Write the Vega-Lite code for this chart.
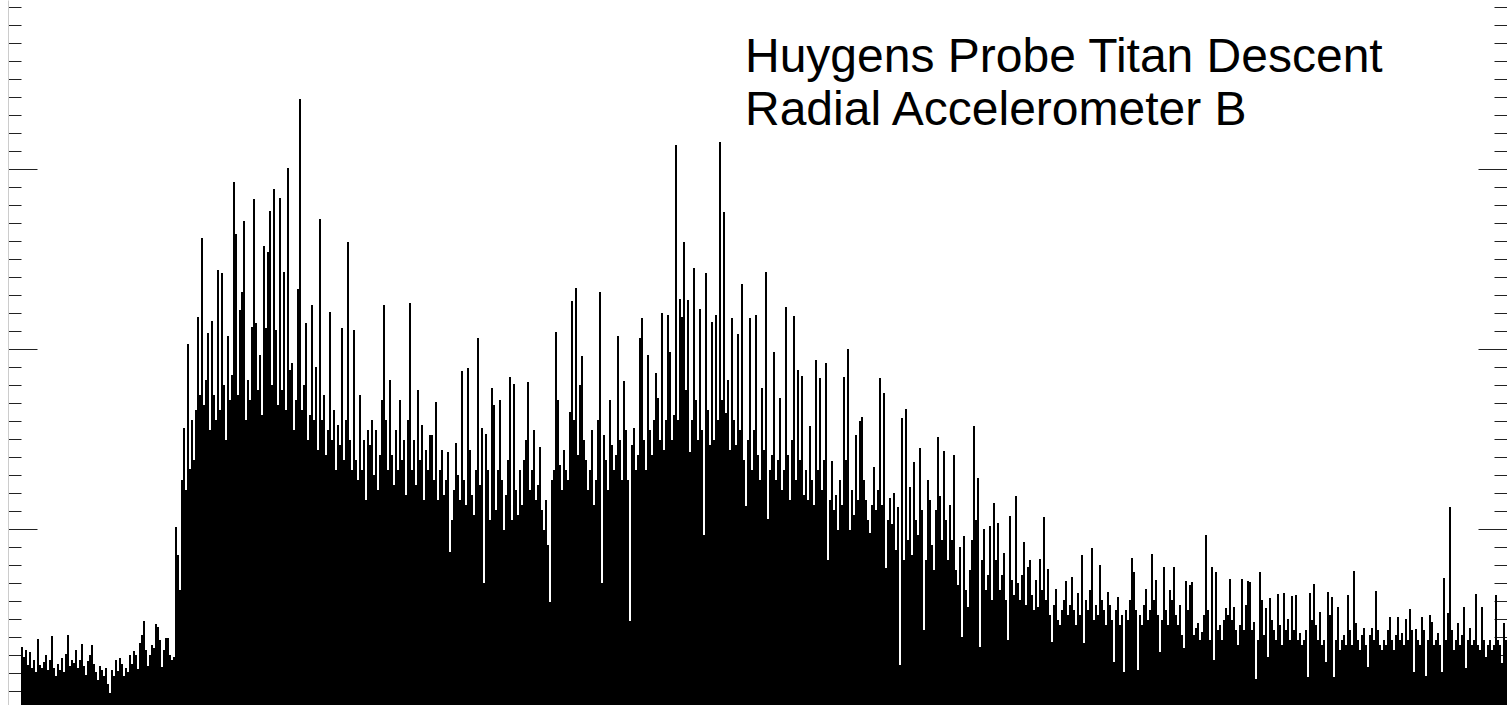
{
"$schema": "https://vega.github.io/schema/vega-lite/v6.json",
"width": 1486,
"height": 705,
"autosize": {"type": "none"},
"padding": {"left": 21, "top": 0, "right": 0, "bottom": 0},
"background": "white",
"title": {"text": ["Huygens Probe Titan Descent", "Radial Accelerometer B"], "anchor": "start", "frame": "group", "orient": "top", "dx": 724, "offset": -173, "font": "Liberation Sans", "fontSize": 48, "fontWeight": "normal", "color": "#000000", "lineHeight": 53, "baseline": "alphabetic"},
"data": {"values": [
{"i":0,"h":62},{"i":1,"h":52},{"i":2,"h":59},{"i":3,"h":44},{"i":4,"h":57},{"i":5,"h":41},{"i":6,"h":49},{"i":7,"h":37},{"i":8,"h":70},{"i":9,"h":44},
{"i":10,"h":41},{"i":11,"h":47},{"i":12,"h":54},{"i":13,"h":39},{"i":14,"h":49},{"i":15,"h":73},{"i":16,"h":41},{"i":17,"h":33},{"i":18,"h":45},{"i":19,"h":39},
{"i":20,"h":51},{"i":21,"h":37},{"i":22,"h":55},{"i":23,"h":74},{"i":24,"h":43},{"i":25,"h":49},{"i":26,"h":46},{"i":27,"h":59},{"i":28,"h":41},{"i":29,"h":49},
{"i":30,"h":65},{"i":31,"h":43},{"i":32,"h":34},{"i":33,"h":48},{"i":34,"h":54},{"i":35,"h":64},{"i":36,"h":45},{"i":37,"h":37},{"i":38,"h":29},{"i":39,"h":43},
{"i":40,"h":39},{"i":41,"h":33},{"i":42,"h":41},{"i":43,"h":25},{"i":44,"h":16},{"i":45,"h":39},{"i":46,"h":33},{"i":47,"h":49},{"i":48,"h":38},{"i":49,"h":51},
{"i":50,"h":45},{"i":51,"h":33},{"i":52,"h":41},{"i":53,"h":37},{"i":54,"h":54},{"i":55,"h":45},{"i":56,"h":58},{"i":57,"h":54},{"i":58,"h":40},{"i":59,"h":66},
{"i":60,"h":74},{"i":61,"h":88},{"i":62,"h":59},{"i":63,"h":43},{"i":64,"h":54},{"i":65,"h":64},{"i":66,"h":61},{"i":67,"h":85},{"i":68,"h":82},{"i":69,"h":69},
{"i":70,"h":42},{"i":71,"h":59},{"i":72,"h":71},{"i":73,"h":71},{"i":74,"h":54},{"i":75,"h":49},{"i":76,"h":52},
{"i":77,"h":182},{"i":78,"h":154},{"i":79,"h":119},{"i":80,"h":229},{"i":81,"h":281},{"i":82,"h":219},{"i":83,"h":365},{"i":84,"h":240},
{"i":85,"h":289},{"i":86,"h":249},{"i":87,"h":299},{"i":88,"h":392},{"i":89,"h":314},{"i":90,"h":471},{"i":91,"h":304},{"i":92,"h":329},{"i":93,"h":376},{"i":94,"h":279},
{"i":95,"h":388},{"i":96,"h":314},{"i":97,"h":289},{"i":98,"h":439},{"i":99,"h":299},{"i":100,"h":436},{"i":101,"h":324},{"i":102,"h":269},{"i":103,"h":373},{"i":104,"h":309},
{"i":105,"h":334},{"i":106,"h":527},{"i":107,"h":475},{"i":108,"h":314},{"i":109,"h":399},{"i":110,"h":417},{"i":111,"h":488},{"i":112,"h":289},{"i":113,"h":329},{"i":114,"h":309},
{"i":115,"h":382},{"i":116,"h":510},{"i":117,"h":386},{"i":118,"h":319},{"i":119,"h":354},{"i":120,"h":294},{"i":121,"h":463},{"i":122,"h":381},{"i":123,"h":457},{"i":124,"h":498},
{"i":125,"h":324},{"i":126,"h":520},{"i":127,"h":379},{"i":128,"h":304},{"i":129,"h":511},{"i":130,"h":319},{"i":131,"h":437},{"i":132,"h":299},{"i":133,"h":541},{"i":134,"h":339},
{"i":135,"h":346},{"i":136,"h":279},{"i":137,"h":309},{"i":138,"h":420},{"i":139,"h":610},{"i":140,"h":299},{"i":141,"h":324},{"i":142,"h":386},{"i":143,"h":269},{"i":144,"h":294},
{"i":145,"h":404},{"i":146,"h":289},{"i":147,"h":342},{"i":148,"h":259},{"i":149,"h":490},{"i":150,"h":289},{"i":151,"h":314},{"i":152,"h":254},{"i":153,"h":279},{"i":154,"h":397},
{"i":155,"h":269},{"i":156,"h":299},{"i":157,"h":239},{"i":158,"h":284},{"i":159,"h":264},{"i":160,"h":381},{"i":161,"h":249},{"i":162,"h":289},{"i":163,"h":467},{"i":164,"h":269},
{"i":165,"h":239},{"i":166,"h":379},{"i":167,"h":249},{"i":168,"h":229},{"i":169,"h":314},{"i":170,"h":239},{"i":171,"h":269},{"i":172,"h":209},{"i":173,"h":279},{"i":174,"h":264},
{"i":175,"h":289},{"i":176,"h":234},{"i":177,"h":279},{"i":178,"h":219},{"i":179,"h":254},{"i":180,"h":309},{"i":181,"h":404},{"i":182,"h":289},{"i":183,"h":239},{"i":184,"h":329},
{"i":185,"h":254},{"i":186,"h":224},{"i":187,"h":279},{"i":188,"h":239},{"i":189,"h":309},{"i":190,"h":249},{"i":191,"h":269},{"i":192,"h":214},{"i":193,"h":289},{"i":194,"h":406},
{"i":195,"h":239},{"i":196,"h":269},{"i":197,"h":224},{"i":198,"h":319},{"i":199,"h":249},{"i":200,"h":284},{"i":201,"h":209},{"i":202,"h":259},{"i":203,"h":239},{"i":204,"h":274},
{"i":205,"h":274},{"i":206,"h":229},{"i":207,"h":307},{"i":208,"h":209},{"i":209,"h":239},{"i":210,"h":259},{"i":211,"h":214},{"i":212,"h":229},{"i":213,"h":257},{"i":214,"h":157},
{"i":215,"h":189},{"i":216,"h":219},{"i":217,"h":266},{"i":218,"h":234},{"i":219,"h":209},{"i":220,"h":338},{"i":221,"h":229},{"i":222,"h":204},{"i":223,"h":341},{"i":224,"h":259},
{"i":225,"h":214},{"i":226,"h":194},{"i":227,"h":239},{"i":228,"h":371},{"i":229,"h":224},{"i":230,"h":281},{"i":231,"h":126},{"i":232,"h":275},{"i":233,"h":239},{"i":234,"h":189},
{"i":235,"h":321},{"i":236,"h":304},{"i":237,"h":199},{"i":238,"h":239},{"i":239,"h":309},{"i":240,"h":229},{"i":241,"h":179},{"i":242,"h":214},{"i":243,"h":249},{"i":244,"h":332},
{"i":245,"h":189},{"i":246,"h":325},{"i":247,"h":219},{"i":248,"h":194},{"i":249,"h":239},{"i":250,"h":204},{"i":251,"h":249},{"i":252,"h":269},{"i":253,"h":327},{"i":254,"h":219},
{"i":255,"h":239},{"i":256,"h":279},{"i":257,"h":209},{"i":258,"h":224},{"i":259,"h":262},{"i":260,"h":199},{"i":261,"h":179},{"i":262,"h":209},{"i":263,"h":164},{"i":264,"h":107},
{"i":265,"h":229},{"i":266,"h":239},{"i":267,"h":377},{"i":268,"h":309},{"i":269,"h":244},{"i":270,"h":219},{"i":271,"h":259},{"i":272,"h":239},{"i":273,"h":229},{"i":274,"h":297},
{"i":275,"h":408},{"i":276,"h":289},{"i":277,"h":421},{"i":278,"h":254},{"i":279,"h":324},{"i":280,"h":353},{"i":281,"h":269},{"i":282,"h":249},{"i":283,"h":219},{"i":284,"h":239},
{"i":285,"h":279},{"i":286,"h":204},{"i":287,"h":229},{"i":288,"h":289},{"i":289,"h":417},{"i":290,"h":126},{"i":291,"h":274},{"i":292,"h":249},{"i":293,"h":219},{"i":294,"h":309},
{"i":295,"h":264},{"i":296,"h":239},{"i":297,"h":254},{"i":298,"h":373},{"i":299,"h":269},{"i":300,"h":229},{"i":301,"h":328},{"i":302,"h":279},{"i":303,"h":229},{"i":304,"h":88},
{"i":305,"h":264},{"i":306,"h":281},{"i":307,"h":239},{"i":308,"h":254},{"i":309,"h":371},{"i":310,"h":391},{"i":311,"h":269},{"i":312,"h":239},{"i":313,"h":354},{"i":314,"h":279},
{"i":315,"h":254},{"i":316,"h":289},{"i":317,"h":336},{"i":318,"h":311},{"i":319,"h":269},{"i":320,"h":396},{"i":321,"h":259},{"i":322,"h":289},{"i":323,"h":394},{"i":324,"h":357},
{"i":325,"h":269},{"i":326,"h":294},{"i":327,"h":564},{"i":328,"h":289},{"i":329,"h":410},{"i":330,"h":392},{"i":331,"h":467},{"i":332,"h":319},{"i":333,"h":409},{"i":334,"h":257},
{"i":335,"h":289},{"i":336,"h":441},{"i":337,"h":309},{"i":338,"h":269},{"i":339,"h":400},{"i":340,"h":279},{"i":341,"h":174},{"i":342,"h":436},{"i":343,"h":299},{"i":344,"h":264},
{"i":345,"h":387},{"i":346,"h":269},{"i":347,"h":394},{"i":348,"h":289},{"i":349,"h":567},{"i":350,"h":309},{"i":351,"h":497},{"i":352,"h":296},{"i":353,"h":329},{"i":354,"h":259},
{"i":355,"h":391},{"i":356,"h":289},{"i":357,"h":264},{"i":358,"h":375},{"i":359,"h":279},{"i":360,"h":425},{"i":361,"h":249},{"i":362,"h":203},{"i":363,"h":269},{"i":364,"h":391},
{"i":365,"h":239},{"i":366,"h":279},{"i":367,"h":394},{"i":368,"h":254},{"i":369,"h":229},{"i":370,"h":321},{"i":371,"h":259},{"i":372,"h":437},{"i":373,"h":190},{"i":374,"h":239},
{"i":375,"h":254},{"i":376,"h":357},{"i":377,"h":229},{"i":378,"h":249},{"i":379,"h":311},{"i":380,"h":219},{"i":381,"h":239},{"i":382,"h":402},{"i":383,"h":254},{"i":384,"h":209},
{"i":385,"h":269},{"i":386,"h":393},{"i":387,"h":229},{"i":388,"h":339},{"i":389,"h":249},{"i":390,"h":333},{"i":391,"h":214},{"i":392,"h":239},{"i":393,"h":209},{"i":394,"h":283},
{"i":395,"h":229},{"i":396,"h":204},{"i":397,"h":349},{"i":398,"h":239},{"i":399,"h":331},{"i":400,"h":219},{"i":401,"h":249},{"i":402,"h":346},{"i":403,"h":149},{"i":404,"h":209},
{"i":405,"h":248},{"i":406,"h":199},{"i":407,"h":214},{"i":408,"h":179},{"i":409,"h":229},{"i":410,"h":204},{"i":411,"h":332},{"i":412,"h":249},{"i":413,"h":360},{"i":414,"h":179},
{"i":415,"h":219},{"i":416,"h":194},{"i":417,"h":274},{"i":418,"h":209},{"i":419,"h":288},{"i":420,"h":292},{"i":421,"h":229},{"i":422,"h":209},{"i":423,"h":189},{"i":424,"h":176},
{"i":425,"h":204},{"i":426,"h":242},{"i":427,"h":199},{"i":428,"h":219},{"i":429,"h":331},{"i":430,"h":204},{"i":431,"h":316},{"i":432,"h":141},{"i":433,"h":189},{"i":434,"h":211},
{"i":435,"h":185},{"i":436,"h":216},{"i":437,"h":159},{"i":438,"h":202},{"i":439,"h":44},{"i":440,"h":291},{"i":441,"h":149},{"i":442,"h":300},{"i":443,"h":169},{"i":444,"h":222},
{"i":445,"h":154},{"i":446,"h":247},{"i":447,"h":189},{"i":448,"h":174},{"i":449,"h":261},{"i":450,"h":199},{"i":451,"h":79},{"i":452,"h":149},{"i":453,"h":229},{"i":454,"h":209},
{"i":455,"h":164},{"i":456,"h":139},{"i":457,"h":199},{"i":458,"h":272},{"i":459,"h":213},{"i":460,"h":169},{"i":461,"h":258},{"i":462,"h":189},{"i":463,"h":149},{"i":464,"h":204},
{"i":465,"h":169},{"i":466,"h":254},{"i":467,"h":139},{"i":468,"h":124},{"i":469,"h":162},{"i":470,"h":72},{"i":471,"h":173},{"i":472,"h":119},{"i":473,"h":102},{"i":474,"h":139},
{"i":475,"h":169},{"i":476,"h":283},{"i":477,"h":189},{"i":478,"h":231},{"i":479,"h":62},{"i":480,"h":149},{"i":481,"h":180},{"i":482,"h":119},{"i":483,"h":134},{"i":484,"h":183},
{"i":485,"h":109},{"i":486,"h":206},{"i":487,"h":149},{"i":488,"h":186},{"i":489,"h":119},{"i":490,"h":134},{"i":491,"h":156},{"i":492,"h":109},{"i":493,"h":69},{"i":494,"h":193},
{"i":495,"h":129},{"i":496,"h":114},{"i":497,"h":213},{"i":498,"h":126},{"i":499,"h":109},{"i":500,"h":134},{"i":501,"h":167},{"i":502,"h":104},{"i":503,"h":142},{"i":504,"h":149},
{"i":505,"h":114},{"i":506,"h":99},{"i":507,"h":129},{"i":508,"h":102},{"i":509,"h":150},{"i":510,"h":119},{"i":511,"h":192},{"i":512,"h":109},{"i":513,"h":140},{"i":514,"h":94},
{"i":515,"h":67},{"i":516,"h":104},{"i":517,"h":120},{"i":518,"h":89},{"i":519,"h":84},{"i":520,"h":99},{"i":521,"h":109},{"i":522,"h":128},{"i":523,"h":94},{"i":524,"h":104},
{"i":525,"h":132},{"i":526,"h":99},{"i":527,"h":84},{"i":528,"h":116},{"i":529,"h":94},{"i":530,"h":154},{"i":531,"h":66},{"i":532,"h":109},{"i":533,"h":99},{"i":534,"h":119},
{"i":535,"h":161},{"i":536,"h":89},{"i":537,"h":104},{"i":538,"h":94},{"i":539,"h":144},{"i":540,"h":109},{"i":541,"h":99},{"i":542,"h":84},{"i":543,"h":117},{"i":544,"h":104},
{"i":545,"h":89},{"i":546,"h":47},{"i":547,"h":99},{"i":548,"h":112},{"i":549,"h":84},{"i":550,"h":94},{"i":551,"h":37},{"i":552,"h":99},{"i":553,"h":89},{"i":554,"h":109},
{"i":555,"h":151},{"i":556,"h":137},{"i":557,"h":99},{"i":558,"h":39},{"i":559,"h":94},{"i":560,"h":84},{"i":561,"h":104},{"i":562,"h":120},{"i":563,"h":89},{"i":564,"h":99},
{"i":565,"h":155},{"i":566,"h":109},{"i":567,"h":129},{"i":568,"h":94},{"i":569,"h":57},{"i":570,"h":89},{"i":571,"h":142},{"i":572,"h":99},{"i":573,"h":84},{"i":574,"h":119},
{"i":575,"h":109},{"i":576,"h":142},{"i":577,"h":94},{"i":578,"h":84},{"i":579,"h":104},{"i":580,"h":74},{"i":581,"h":61},{"i":582,"h":128},{"i":583,"h":99},{"i":584,"h":124},
{"i":585,"h":127},{"i":586,"h":74},{"i":587,"h":81},{"i":588,"h":86},{"i":589,"h":69},{"i":590,"h":77},{"i":591,"h":94},{"i":592,"h":174},{"i":593,"h":99},{"i":594,"h":69},
{"i":595,"h":142},{"i":596,"h":49},{"i":597,"h":137},{"i":598,"h":79},{"i":599,"h":84},{"i":600,"h":69},{"i":601,"h":89},{"i":602,"h":101},{"i":603,"h":94},{"i":604,"h":130},
{"i":605,"h":89},{"i":606,"h":102},{"i":607,"h":79},{"i":608,"h":64},{"i":609,"h":84},{"i":610,"h":130},{"i":611,"h":79},{"i":612,"h":104},{"i":613,"h":128},{"i":614,"h":127},
{"i":615,"h":79},{"i":616,"h":87},{"i":617,"h":30},{"i":618,"h":69},{"i":619,"h":137},{"i":620,"h":109},{"i":621,"h":74},{"i":622,"h":101},{"i":623,"h":52},{"i":624,"h":111},
{"i":625,"h":89},{"i":626,"h":79},{"i":627,"h":69},{"i":628,"h":115},{"i":629,"h":84},{"i":630,"h":64},{"i":631,"h":116},{"i":632,"h":79},{"i":633,"h":90},{"i":634,"h":69},
{"i":635,"h":113},{"i":636,"h":79},{"i":637,"h":114},{"i":638,"h":69},{"i":639,"h":76},{"i":640,"h":64},{"i":641,"h":69},{"i":642,"h":79},{"i":643,"h":32},{"i":644,"h":116},
{"i":645,"h":89},{"i":646,"h":125},{"i":647,"h":84},{"i":648,"h":69},{"i":649,"h":97},{"i":650,"h":64},{"i":651,"h":69},{"i":652,"h":47},{"i":653,"h":117},{"i":654,"h":94},
{"i":655,"h":112},{"i":656,"h":32},{"i":657,"h":69},{"i":658,"h":102},{"i":659,"h":59},{"i":660,"h":69},{"i":661,"h":74},{"i":662,"h":64},{"i":663,"h":114},{"i":664,"h":79},
{"i":665,"h":64},{"i":666,"h":138},{"i":667,"h":86},{"i":668,"h":69},{"i":669,"h":59},{"i":670,"h":74},{"i":671,"h":81},{"i":672,"h":64},{"i":673,"h":42},{"i":674,"h":74},
{"i":675,"h":81},{"i":676,"h":69},{"i":677,"h":118},{"i":678,"h":79},{"i":679,"h":64},{"i":680,"h":59},{"i":681,"h":69},{"i":682,"h":64},{"i":683,"h":79},{"i":684,"h":92},
{"i":685,"h":69},{"i":686,"h":59},{"i":687,"h":74},{"i":688,"h":92},{"i":689,"h":69},{"i":690,"h":76},{"i":691,"h":64},{"i":692,"h":90},{"i":693,"h":69},{"i":694,"h":100},
{"i":695,"h":79},{"i":696,"h":37},{"i":697,"h":80},{"i":698,"h":69},{"i":699,"h":64},{"i":700,"h":92},{"i":701,"h":79},{"i":702,"h":33},{"i":703,"h":69},{"i":704,"h":94},
{"i":705,"h":87},{"i":706,"h":64},{"i":707,"h":69},{"i":708,"h":76},{"i":709,"h":64},{"i":710,"h":37},{"i":711,"h":131},{"i":712,"h":69},{"i":713,"h":96},{"i":714,"h":202},
{"i":715,"h":79},{"i":716,"h":59},{"i":717,"h":69},{"i":718,"h":86},{"i":719,"h":64},{"i":720,"h":74},{"i":721,"h":102},{"i":722,"h":41},{"i":723,"h":69},{"i":724,"h":81},
{"i":725,"h":64},{"i":726,"h":69},{"i":727,"h":115},{"i":728,"h":64},{"i":729,"h":59},{"i":730,"h":102},{"i":731,"h":69},{"i":732,"h":52},{"i":733,"h":64},{"i":734,"h":69},
{"i":735,"h":59},{"i":736,"h":64},{"i":737,"h":114},{"i":738,"h":69},{"i":739,"h":64},{"i":740,"h":46},{"i":741,"h":86},{"i":742,"h":69}
]},
"layer": [
{"mark": {"type": "bar", "color": "#000000", "clip": true},
 "encoding": {
  "x": {"field": "i", "type": "ordinal", "scale": {"paddingInner": 0, "paddingOuter": 0}, "axis": null},
  "y": {"field": "h", "type": "quantitative", "scale": {"domain": [4, 709], "zero": false, "nice": false},
   "axis": {"orient": "left", "offset": 13, "values": [18,36,54,72,90,108,126,144,162,180,198,216,234,252,270,288,306,324,342,360,378,396,414,432,450,468,486,504,522,540,558,576,594,612,630,648,666,684,702],
    "labels": false, "title": null, "grid": false, "domain": true, "domainColor": "#cccccc", "domainWidth": 1,
    "ticks": true, "tickColor": "#222222", "tickWidth": 1,
    "tickSize": {"condition": {"test": "datum.value % 180 === 0", "value": -29}, "value": -13}}}
 }},
{"mark": {"type": "rule", "opacity": 0},
 "encoding": {
  "y": {"aggregate": "max", "field": "h", "type": "quantitative",
   "axis": {"orient": "right", "offset": 0, "values": [18,36,54,72,90,108,126,144,162,180,198,216,234,252,270,288,306,324,342,360,378,396,414,432,450,468,486,504,522,540,558,576,594,612,630,648,666,684,702],
    "labels": false, "title": null, "grid": false, "domain": false,
    "ticks": true, "tickColor": "#222222", "tickWidth": 1,
    "tickSize": {"condition": {"test": "datum.value % 180 === 0", "value": -29}, "value": -13}}}
 }}
],
"resolve": {"axis": {"y": "independent"}},
"config": {"view": {"stroke": null}}
}
